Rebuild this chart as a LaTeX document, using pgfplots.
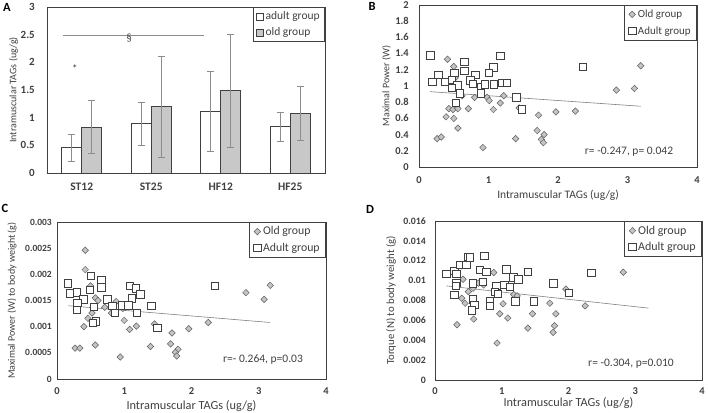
\documentclass[border=0pt]{standalone}
\usepackage{fontspec}
\setmainfont{Carlito}
\usepackage{pgfplots}
\pgfplotsset{compat=1.18}

\definecolor{ink}{HTML}{404040}
\definecolor{errgray}{HTML}{8C8C8C}
\definecolor{barold}{HTML}{C8C8C8}
\definecolor{dmdfill}{HTML}{C4C4C4}
\definecolor{dmdline}{HTML}{5E5E5E}
\definecolor{trend}{HTML}{808080}

\pgfplotsset{
  panel/.style={
    scale only axis,
    axis line style={ink, line width=0.7pt},
    major tick length=0pt,
    scaled ticks=false,
    /pgf/number format/assume math mode=true,
    tick label style={font=\fontsize{10.5}{12}\selectfont\bfseries, text=ink, inner sep=0pt},
    label style={font=\fontsize{10}{12}\selectfont, text=ink},
    legend cell align=left,
    legend style={draw=ink, line width=0.6pt, at={(1,1)}, anchor=north east,
      font=\fontsize{11}{13}\selectfont, text=ink, inner xsep=4pt, inner ysep=2.5pt, row sep=3.5pt},
  },
  oldpts/.style={only marks, mark=square*,
    mark options={rotate=45, mark size=2.3pt, fill=dmdfill, draw=dmdline, line width=0.5pt}},
  adultpts/.style={only marks, mark=square*,
    mark options={mark size=3.7pt, fill=white, draw=ink, line width=0.6pt}},
  trendline/.style={trend, line width=0.6pt, no marks, forget plot},
}

\begin{document}
\begin{tikzpicture}
\path[use as bounding box] (0pt,0pt) rectangle (708pt,412pt);

% ---------- A: bars ----------
\begin{axis}[panel, at={(47pt,239pt)}, anchor=south west, width=278pt, height=166pt,
  ybar=0pt, bar width=20pt,
  xmin=-0.5, xmax=3.5, ymin=0, ymax=3,
  xtick={0,1,2,3}, xticklabels={ST12,ST25,HF12,HF25},
  ytick={0,0.5,1,1.5,2,2.5,3}, yticklabels={0,0.5,1,1.5,2,2.5,3},
  tick label style={font=\fontsize{11.5}{13}\selectfont\bfseries},
  yticklabel style={xshift=-12pt, font=\fontsize{11}{13}\selectfont\bfseries},
  xticklabel style={yshift=-10pt},
  ylabel={Intramuscular TAGs (ug/g)},
  ylabel style={at={([xshift=-33.5pt]axis description cs:0,0.5)}, anchor=center},
  legend image code/.code={\draw[#1] (0pt,-3.5pt) rectangle (7pt,3.5pt);},
  legend style={font=\fontsize{11.5}{13}\selectfont, row sep=2.5pt, inner xsep=3pt},
]
\addplot[fill=white, draw=ink, line width=0.6pt,
  error bars/.cd, y dir=both, y explicit,
  error bar style={errgray, line width=0.6pt},
  error mark options={rotate=90, mark size=3.5pt, errgray, line width=0.6pt}]
  coordinates {(0,0.46) +- (0,0.24) (1,0.89) +- (0,0.39) (2,1.11) +- (0,0.72) (3,0.84) +- (0,0.26)};
\addplot[fill=barold, draw=ink, line width=0.6pt,
  error bars/.cd, y dir=both, y explicit,
  error bar style={errgray, line width=0.6pt},
  error mark options={rotate=90, mark size=3.5pt, errgray, line width=0.6pt}]
  coordinates {(0,0.83) +- (0,0.48) (1,1.20) +- (0,0.91) (2,1.49) +- (0,1.02) (3,1.08) +- (0,0.49)};
\legend{adult group, old group}
\draw[errgray, line width=0.6pt] (axis cs:-0.27,2.48) -- (axis cs:1.76,2.48);
\node[text=ink, font=\fontsize{11}{13}\selectfont] at (axis cs:0.68,2.43) {§};
\node[text=ink, font=\fontsize{11}{13}\selectfont] at (axis cs:-0.1,1.88) {*};
\end{axis}

% ---------- B ----------
\begin{axis}[panel, at={(419pt,245pt)}, anchor=south west, width=278pt, height=162pt,
  xmin=0, xmax=4, ymin=0, ymax=2,
  xtick={0,1,2,3,4},
  ytick={0,0.2,0.4,0.6,0.8,1,1.2,1.4,1.6,1.8,2},
  yticklabels={0,0.2,0.4,0.6,0.8,1,1.2,1.4,1.6,1.8,2},
  yticklabel style={xshift=-10pt},
  xticklabel style={yshift=-9.5pt},
  xlabel={Intramuscular TAGs (ug/g)},
  xlabel style={at={([yshift=-32pt]axis description cs:0.5,0)}, anchor=base, font=\fontsize{11.5}{13}\selectfont},
  ylabel={Maximal Power (W)},
  ylabel style={at={([xshift=-32.5pt]axis description cs:0,0.5)}, anchor=center},
]
\addplot[trendline] coordinates {(0.16,0.93) (3.19,0.75)};
\addplot[oldpts] coordinates {
 (0.41,1.33) (0.50,1.24) (0.52,1.10) (0.62,0.88) (0.80,0.86) (0.98,0.86)
 (1.01,0.82) (1.22,0.88) (1.17,0.79) (1.07,0.71) (0.43,0.72) (0.49,0.71)
 (0.56,0.72) (0.71,0.72) (0.39,0.62) (0.50,0.60) (0.56,0.48) (0.26,0.35)
 (0.32,0.37) (0.92,0.24) (1.39,0.35) (1.44,0.73) (1.72,0.64) (1.70,0.45)
 (1.80,0.40) (1.76,0.34) (1.79,0.30) (1.97,0.68) (2.25,0.69) (2.84,0.95)
 (3.10,0.97) (3.19,1.25)};
\addplot[adultpts] coordinates {
 (0.16,1.38) (0.65,1.30) (1.17,1.37) (0.28,1.14) (0.51,1.16) (0.65,1.19)
 (0.81,1.14) (1.07,1.23) (1.00,1.16) (0.19,1.05) (0.37,1.05) (0.47,1.08)
 (0.55,1.01) (0.74,1.07) (0.77,1.03) (0.47,0.98) (0.59,0.91) (0.89,0.99)
 (0.95,1.02) (1.08,1.02) (1.19,1.04) (1.26,1.04) (0.89,0.91) (1.40,0.86)
 (0.53,0.79) (1.48,0.71) (2.36,1.24)};
\legend{Old group, Adult group}
\end{axis}

% ---------- C ----------
\begin{axis}[panel, at={(57pt,33pt)}, anchor=south west, width=269pt, height=157pt,
  xmin=0, xmax=4, ymin=0, ymax=0.003,
  xtick={0,1,2,3,4},
  ytick={0,0.0005,0.001,0.0015,0.002,0.0025,0.003},
  yticklabels={0,0.0005,0.001,0.0015,0.002,0.0025,0.003},
  yticklabel style={xshift=-5pt, font=\fontsize{9.5}{11}\selectfont\bfseries},
  xticklabel style={yshift=-8.7pt},
  xlabel={Intramuscular TAGs (ug/g)},
  xlabel style={at={([yshift=-30pt]axis description cs:0.5,0)}, anchor=base, font=\fontsize{12.3}{14}\selectfont},
  ylabel={Maximal Power (W) to body weight (g)},
  ylabel style={at={([xshift=-45pt]axis description cs:0,0.5)}, anchor=center},
  legend style={font=\fontsize{11.8}{14}\selectfont, row sep=2.5pt},
]
\addplot[trendline] coordinates {(0.17,0.00140) (3.17,0.00108)};
\addplot[oldpts] coordinates {
 (0.42,0.00246) (0.42,0.00209) (0.50,0.00178) (0.57,0.00155) (0.61,0.00150)
 (0.71,0.00137) (0.88,0.00148) (0.98,0.00135) (0.81,0.00126) (1.00,0.00112)
 (1.08,0.00095) (1.18,0.00101) (0.52,0.00126) (0.46,0.00116) (0.40,0.00100)
 (0.27,0.00059) (0.34,0.00059) (0.57,0.00065) (0.94,0.00042) (1.39,0.00062)
 (1.45,0.00105) (1.71,0.00088) (1.69,0.00067) (1.80,0.00057) (1.76,0.00051)
 (1.78,0.00044) (1.96,0.00096) (2.25,0.00108) (2.81,0.00165) (3.08,0.00152)
 (3.17,0.00179)};
\addplot[adultpts] coordinates {
 (0.16,0.00183) (0.19,0.00164) (0.29,0.00166) (0.50,0.00197) (0.66,0.00189)
 (0.66,0.00175) (0.49,0.00170) (0.39,0.00152) (0.30,0.00146) (0.29,0.00132)
 (0.55,0.00138) (0.75,0.00152) (0.82,0.00140) (0.86,0.00126) (0.96,0.00141)
 (1.08,0.00178) (1.17,0.00173) (1.24,0.00162) (1.11,0.00154) (1.06,0.00141)
 (1.19,0.00127) (1.40,0.00140) (0.58,0.00110) (0.53,0.00107) (1.49,0.00098)
 (2.35,0.00178)};
\legend{Old group, Adult group}
\end{axis}

% ---------- D ----------
\begin{axis}[panel, at={(435pt,32pt)}, anchor=south west, width=267pt, height=159pt,
  xmin=0, xmax=4, ymin=0, ymax=0.016,
  xtick={0,1,2,3,4},
  ytick={0,0.002,0.004,0.006,0.008,0.01,0.012,0.014,0.016},
  yticklabels={0,0.002,0.004,0.006,0.008,0.01,0.012,0.014,0.016},
  yticklabel style={xshift=-9pt, font=\fontsize{9.8}{11}\selectfont\bfseries},
  xticklabel style={yshift=-7.8pt},
  xlabel={Intramuscular TAGs (ug/g)},
  xlabel style={at={([yshift=-26pt]axis description cs:0.5,0)}, anchor=base, font=\fontsize{12.3}{14}\selectfont},
  ylabel={Torque (N) to body weight (g)},
  ylabel style={at={([xshift=-44pt]axis description cs:0,0.5)}, anchor=center, font=\fontsize{10.8}{13}\selectfont},
  legend style={font=\fontsize{12}{14}\selectfont, row sep=2.5pt},
]
\addplot[trendline] coordinates {(0.17,0.00947) (3.20,0.00723)};
\addplot[oldpts] coordinates {
 (0.40,0.01148) (0.42,0.01014) (0.57,0.00980) (0.65,0.00974) (0.73,0.00957)
 (0.88,0.01081) (0.57,0.00924) (0.50,0.00890) (0.45,0.00773) (0.40,0.00823)
 (0.58,0.00613) (0.33,0.00556) (1.02,0.00767) (0.97,0.00666) (1.09,0.00623)
 (1.18,0.00860) (1.23,0.00847) (1.46,0.00666) (1.39,0.00522) (1.72,0.00773)
 (1.81,0.00666) (1.79,0.00546) (1.77,0.00479) (0.93,0.00372) (1.49,0.00787)
 (1.96,0.00914) (2.25,0.00746) (2.82,0.01084)};
\addplot[adultpts] coordinates {
 (0.17,0.01068) (0.29,0.01100) (0.32,0.01070) (0.32,0.00980) (0.29,0.00857)
 (0.38,0.01158) (0.47,0.01158) (0.49,0.01242) (0.52,0.01235) (0.74,0.01248)
 (0.67,0.01108) (0.77,0.01090) (1.07,0.01115) (1.17,0.01034) (1.25,0.01014)
 (1.39,0.01091) (1.77,0.00974) (2.00,0.00880) (0.57,0.00974) (0.72,0.00990)
 (0.92,0.00947) (1.04,0.00957) (1.12,0.00940) (0.90,0.00890) (0.94,0.00870)
 (0.57,0.00813) (0.59,0.00756) (0.55,0.00700) (0.82,0.00790) (0.82,0.00746)
 (1.20,0.00790) (1.48,0.00790) (2.34,0.01080) (0.31,0.00947)};
\legend{Old group, Adult group}
\end{axis}

% panel letters and r/p notes
\node[font=\fontsize{12.5}{14}\selectfont\bfseries] at (7pt,404.5pt) {A};
\node[font=\fontsize{12.5}{14}\selectfont\bfseries] at (372pt,406pt) {B};
\node[font=\fontsize{12.5}{14}\selectfont\bfseries] at (5pt,204pt) {C};
\node[font=\fontsize{12.5}{14}\selectfont\bfseries] at (370pt,203pt) {D};
\node[text=ink, font=\fontsize{11.5}{13}\selectfont] at (629pt,260pt) {r= -0.247, p= 0.042};
\node[text=ink, font=\fontsize{11.5}{13}\selectfont] at (263pt,52pt) {r=- 0.264, p=0.03};
\node[text=ink, font=\fontsize{11.5}{13}\selectfont] at (631pt,48pt) {r= -0.304, p=0.010};
\end{tikzpicture}
\end{document}
